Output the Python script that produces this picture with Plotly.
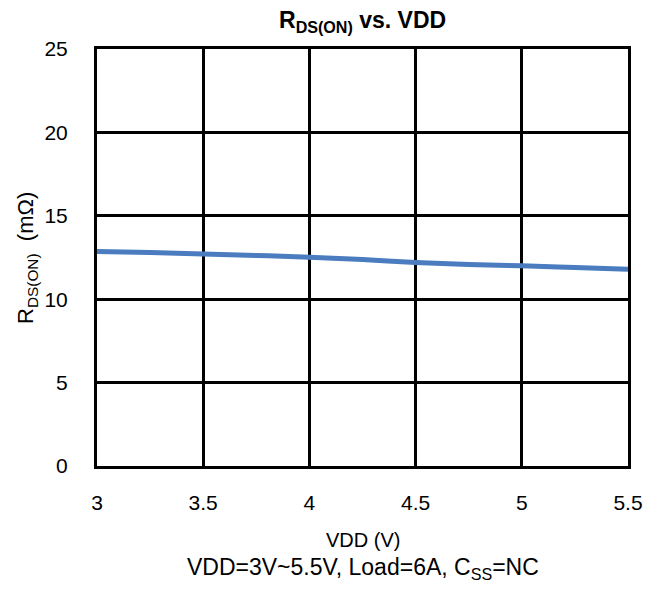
import plotly.graph_objects as go

vdd = [3.0, 3.25, 3.5, 3.75, 4.0, 4.25, 4.5, 4.75, 5.0, 5.25, 5.5]
rds = [12.86, 12.80, 12.71, 12.62, 12.52, 12.38, 12.20, 12.08, 12.00, 11.90, 11.80]

x_ticks = [3, 3.5, 4, 4.5, 5, 5.5]
x_tick_text = ["3", "3.5", "4", "4.5", "5", "5.5"]
y_ticks = [0, 5, 10, 15, 20, 25]

font = "Liberation Sans, Arial, sans-serif"

L, R, T, B = 97, 34, 49, 126
W, H = 662, 592
pw, ph = W - L - R, H - T - B

fig = go.Figure()
fig.add_trace(go.Scatter(x=vdd, y=rds, mode="lines",
                         line=dict(color="#4a7cbf", width=5), line_shape="spline",
                         showlegend=False))

fig.update_layout(
    width=W, height=H,
    margin=dict(l=L, r=R, t=T, b=B),
    paper_bgcolor="white", plot_bgcolor="white",
    font=dict(family=font, size=22, color="black"),
    xaxis=dict(range=[3, 5.5], tickvals=x_ticks, ticktext=x_tick_text,
               showgrid=True, gridcolor="black", gridwidth=3,
               showline=True, linecolor="black", linewidth=3, mirror=True,
               ticks="", zeroline=False, tickfont=dict(size=21), ticklabelstandoff=16),
    yaxis=dict(range=[0, 25], tickvals=y_ticks,
               showgrid=True, gridcolor="black", gridwidth=3,
               showline=True, linecolor="black", linewidth=3, mirror=True,
               ticks="", zeroline=False, tickfont=dict(size=21), ticklabelstandoff=22),
    annotations=[
        dict(text="<b>R<sub>DS(ON)</sub> vs. VDD</b>", x=0.5, xref="paper",
             y=1 + (49 - 22) / ph, yref="paper", yanchor="middle", showarrow=False,
             font=dict(size=23)),
        dict(text="VDD (V)", x=0.5, xref="paper", y=-(540 - 466) / ph, yref="paper",
             yanchor="middle", showarrow=False, font=dict(size=20)),
        dict(text="VDD=3V~5.5V, Load=6A, C<sub>SS</sub>=NC", x=0.5, xref="paper",
             y=-(568 - 466) / ph, yref="paper", yanchor="middle", showarrow=False,
             font=dict(size=23)),
        dict(text="R<sub>DS(ON)</sub>  (mΩ)", x=-(97 - 27) / pw, xref="paper",
             xanchor="center", y=(466 - 258) / ph, yref="paper", yanchor="middle",
             showarrow=False, textangle=-90, font=dict(size=22)),
    ],
)

fig.write_html("out.html")
